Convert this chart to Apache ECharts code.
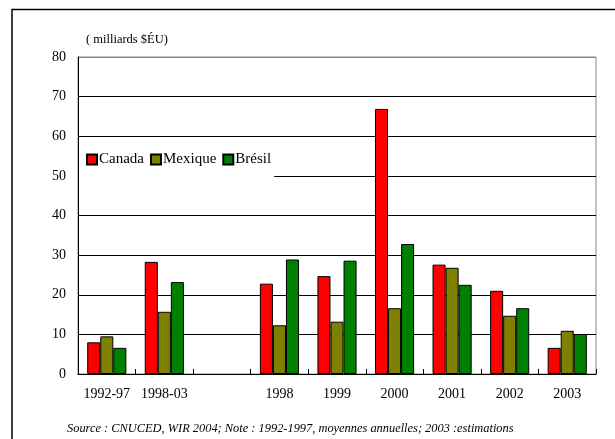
<!DOCTYPE html>
<html>
<head>
<meta charset="utf-8">
<script src="https://cdn.jsdelivr.net/npm/echarts@6/dist/echarts.min.js"></script>
<style>
  html, body { margin: 0; padding: 0; background: #fff; }
  #chart { width: 615px; height: 439px; }
</style>
</head>
<body>
<div id="chart"></div>
<script>
// Investissements directs étrangers entrants (milliards $ÉU)
const categories = ['1992-97', '1998-03', '', '1998', '1999', '2000', '2001', '2002', '2003'];
const canada  = [8.0, 28.3, null, 22.8, 24.7, 66.9, 27.6, 21.0, 6.6];
const mexique = [9.5, 15.7, null, 12.3, 13.2, 16.6, 26.8, 14.7, 10.9];
const bresil  = [6.6, 23.2, null, 28.9, 28.6, 32.8, 22.5, 16.6, 10.1];
const yTicks = [0, 10, 20, 30, 40, 50, 60, 70, 80];

const serif = '"Liberation Serif", "Times New Roman", serif';

const chart = echarts.init(document.getElementById('chart'), null, { renderer: 'canvas' });

function barSeries(name, data, color) {
  return {
    name: name,
    type: 'bar',
    data: data,
    barGap: '0%',
    barCategoryGap: '32%',
    itemStyle: { color: color, borderColor: '#000', borderWidth: 1 }
  };
}

chart.setOption({
  animation: false,
  backgroundColor: '#fff',
  textStyle: { fontFamily: serif },
  title: [
    {
      text: '( milliards $ÉU)',
      left: 81, top: 28,
      textStyle: { fontFamily: serif, fontSize: 12.5, fontWeight: 'normal', color: '#000' }
    },
    {
      text: 'Source : CNUCED, WIR 2004; Note : 1992-1997, moyennes annuelles; 2003 :estimations',
      left: 62, top: 418,
      textStyle: { fontFamily: serif, fontSize: 12.4, fontStyle: 'italic', fontWeight: 'normal', color: '#000' }
    }
  ],
  graphic: [
    {
      // outer frame (left and top edges)
      type: 'rect',
      shape: { x: 12, y: 9.5, width: 700, height: 500 },
      style: { fill: null, stroke: '#000', lineWidth: 1.5 },
      silent: true
    }
  ],
  legend: {
    left: 79, top: 139,
    orient: 'horizontal',
    padding: [13, 3, 13, 7],
    itemGap: 6,
    itemWidth: 10, itemHeight: 10,
    backgroundColor: '#fff',
    icon: 'rect',
    textStyle: { fontFamily: serif, fontSize: 15, color: '#000', padding: [0, 0, 0, -3] },
    data: ['Canada', 'Mexique', 'Brésil']
  },
  grid: {
    left: 78, right: 19, top: 57, bottom: 65,
    show: true, borderColor: '#888', borderWidth: 1, backgroundColor: 'transparent'
  },
  xAxis: {
    type: 'category',
    data: categories,
    axisLine: { lineStyle: { color: '#000', width: 1 } },
    axisTick: { show: true, inside: true, length: 5, interval: 0, lineStyle: { color: '#000' } },
    axisLabel: { fontFamily: serif, fontSize: 14, color: '#000', margin: 13, interval: 0 }
  },
  yAxis: {
    type: 'value',
    min: yTicks[0], max: yTicks[yTicks.length - 1], interval: 10,
    axisLine: { show: true, lineStyle: { color: '#000', width: 1 } },
    axisTick: { show: false },
    axisLabel: { fontFamily: serif, fontSize: 14, color: '#000', margin: 12 },
    splitLine: {
      lineStyle: { color: ['#000', '#000', '#000', '#000', '#000', '#000', '#000', '#000', '#888'], width: 1 }
    }
  },
  series: [
    barSeries('Canada', canada, '#ff0000'),
    barSeries('Mexique', mexique, '#808000'),
    barSeries('Brésil', bresil, '#008000')
  ]
});
</script>
</body>
</html>
